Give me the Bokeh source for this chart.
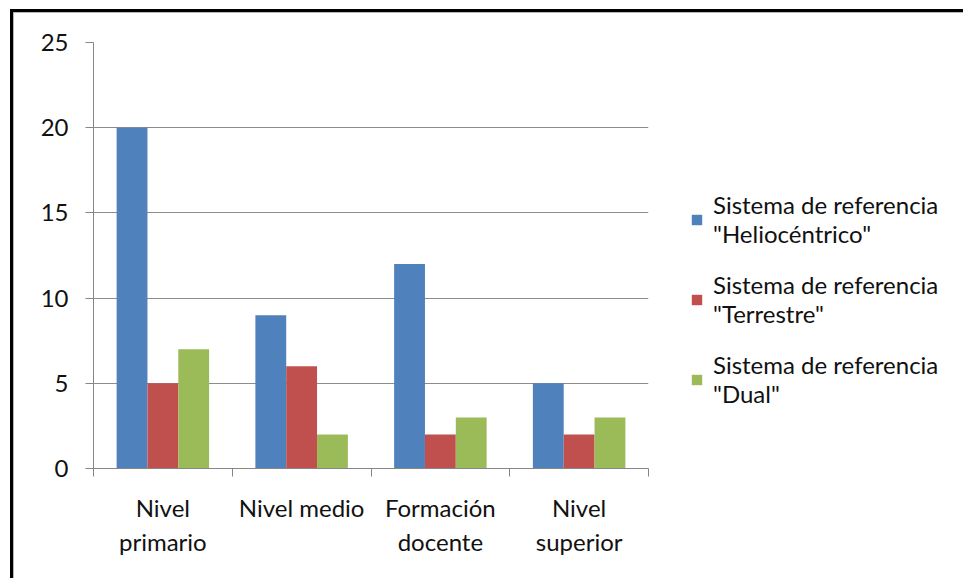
from bokeh.plotting import figure
from bokeh.models import ColumnDataSource, FixedTicker, Legend, LegendItem
from bokeh.transform import dodge
from bokeh.embed import file_html
from bokeh.resources import INLINE

categories = ["Nivel\nprimario", "Nivel medio", "Formación\ndocente", "Nivel\nsuperior"]
helio = [20, 9, 12, 5]
terrestre = [5, 6, 2, 2]
dual = [7, 2, 3, 3]
series_names = ['Sistema de referencia\n"Heliocéntrico"',
                'Sistema de referencia\n"Terrestre"',
                'Sistema de referencia\n"Dual"']
colors = ["#4F81BD", "#C0504D", "#9BBB59"]
y_ticks = [0, 5, 10, 15, 20, 25]

FONT = "Lato"
centers = [i + 0.5 for i in range(len(categories))]
src = ColumnDataSource(dict(x=centers, h=helio, t=terrestre, d=dual))

p = figure(frame_width=555, frame_height=426, x_range=(0, len(categories)), y_range=(0, 25),
           output_backend="svg", toolbar_location=None,
           min_border_left=80, min_border_top=30, min_border_right=0, min_border_bottom=110)
p.styles = {"border-top": "3px solid black", "border-left": "3px solid black",
            "box-shadow": "inset 2px 2px 0 #a0a0a0",
            "margin-left": "10px", "margin-top": "9px"}
p.outline_line_color = None
p.background_fill_color = "white"
p.border_fill_color = "white"

bw = 2 / 9
r = []
for key, off, c in zip(["h", "t", "d"], [-bw, 0, bw], colors):
    r.append(p.vbar(x=dodge("x", off), top=key, width=bw, source=src,
                    fill_color=c, line_color=None))

# axes
p.xaxis.ticker = FixedTicker(ticks=centers, minor_ticks=list(range(len(categories) + 1)))
p.xaxis.major_label_overrides = {c: lab for c, lab in zip(centers, categories)}
p.xaxis.major_tick_out = 0
p.xaxis.major_tick_in = 0
p.xaxis.minor_tick_out = 8
p.xaxis.minor_tick_in = 0
p.xaxis.minor_tick_line_color = "#868686"
p.xaxis.axis_line_color = "#868686"
p.xaxis.major_label_text_font = FONT
p.xaxis.major_label_text_font_size = "24px"
p.xaxis.major_label_text_color = "#111111"
p.xaxis.major_label_text_line_height = 1.2
p.xaxis.major_label_standoff = 16

p.yaxis.ticker = FixedTicker(ticks=y_ticks)
p.yaxis.minor_tick_line_color = None
p.yaxis.major_tick_out = 8
p.yaxis.major_tick_in = 0
p.yaxis.major_tick_line_color = "#868686"
p.yaxis.axis_line_color = "#868686"
p.yaxis.major_label_text_font = FONT
p.yaxis.major_label_text_font_size = "24px"
p.yaxis.major_label_text_color = "#111111"
p.yaxis.major_label_standoff = 17

p.xgrid.grid_line_color = None
p.ygrid.ticker = FixedTicker(ticks=y_ticks)
p.ygrid.grid_line_color = "#8c8c8c"

legend = Legend(items=[LegendItem(label=n, renderers=[rr]) for n, rr in zip(series_names, r)],
                location=(42, 60), padding=0, margin=0, border_line_color=None,
                background_fill_alpha=0, glyph_width=13, glyph_height=13,
                label_standoff=10, spacing=22, label_text_font=FONT,
                label_text_font_size="24px", label_text_color="#111111")
p.add_layout(legend, "right")

open("out.html", "w").write(file_html(p, INLINE))
